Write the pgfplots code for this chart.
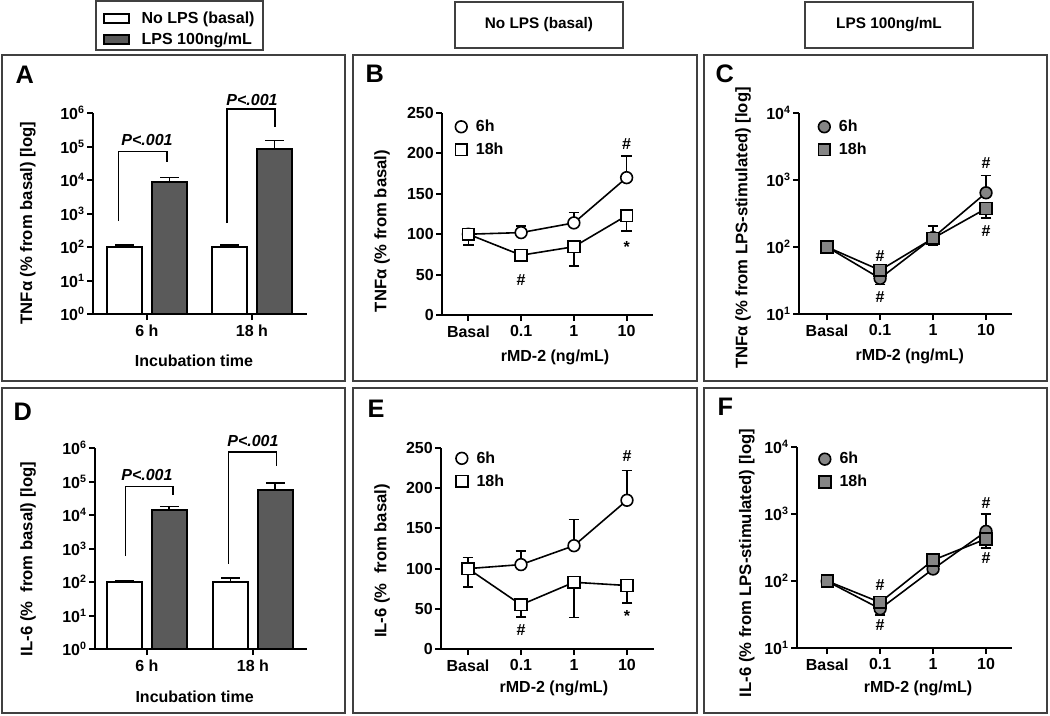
\documentclass[border=0pt]{standalone}
\usepackage{fontspec}
\setmainfont{Liberation Sans}
\usepackage{pgfplots}
\pgfplotsset{compat=1.18}
\definecolor{boxgray}{HTML}{404040}
\definecolor{bardark}{HTML}{5A5A5A}
\definecolor{mkgray}{HTML}{858585}
\newcommand\lf{\fontsize{12}{14}\selectfont\bfseries}
\newcommand\yl{\fontsize{12.5}{14}\selectfont\bfseries}
\newcommand\pf{\fontsize{19}{20}\selectfont\bfseries}
\newcommand\pv{\fontsize{12}{14}\selectfont\bfseries\itshape}
\newcommand\sh{\fontsize{11.5}{14}\selectfont\bfseries}
\pgfplotsset{
  panel/.style={
    scale only axis, anchor=south west, clip=false,
    axis lines=left, axis line style={-, line width=1.5pt, black},
    tick align=outside, major tick length=4.5pt,
    every tick/.style={black, line width=1.5pt},
    tick label style={font=\lf},
    yticklabel style={inner sep=1.5pt},
    xminorticks=false, yminorticks=false,
  },
  ebar/.style={draw=none, mark=none, forget plot,
    error bars/.cd, y dir=#1, y explicit,
    error bar style={draw=black, line width=1.2pt, solid},
    error mark options={draw=black, line width=1.2pt, mark size=4pt, rotate=90}},
  s6/.style={black, line width=1.2pt, mark=*, mark size=4.4pt, mark options={fill=#1, draw=black, line width=1.2pt}},
  s18/.style={black, line width=1.2pt, mark=square*, mark size=4.4pt, mark options={fill=#1, draw=black, line width=1.2pt}},
  mklegend/.style={legend style={at={(axis description cs:#1)}, anchor=north west, draw=none, fill=none, font=\lf, row sep=3pt, inner sep=0pt, legend cell align=left},
    legend image code/.code={\draw[##1,only marks] plot coordinates {(6pt,0pt)}; \path[draw=none,fill=none] (0pt,0pt) -- (15pt,0pt);}},
  barleg/.style={legend image code/.code={\draw[##1] (0pt,-3.4pt) rectangle (18.75pt,3.4pt); \path[draw=none,fill=none] (0pt,0pt) -- (26pt,0pt);}},
  barerr/.style={error bars/.cd, y dir=plus, y explicit,
    error bar style={draw=black, line width=1.2pt},
    error mark options={draw=black, line width=1.2pt, mark size=7pt, rotate=90}},
  lin/.style={ymin=0, ymax=250, ytick={0,50,100,150,200,250}, yticklabels={0,50,100,150,200,250}},
}
\begin{document}
\begin{tikzpicture}
\begin{scope}[x=0.75pt,y=-0.75pt]
\useasboundingbox (0,0) rectangle (1050,715);
\begin{scope}[draw=boxgray, line width=1pt]
\draw (2,55) rectangle (345,381);
\draw (353,55) rectangle (697,381);
\draw (704,55) rectangle (1047,381);
\draw (2,388) rectangle (345,713);
\draw (353,388) rectangle (697,713);
\draw (704,388) rectangle (1047,713);
\draw (96,1) rectangle (263,50);
\draw (455,2) rectangle (623,48);
\draw (805,2) rectangle (973,48);
\end{scope}
\node[font=\sh] at (539,25) {No LPS (basal)};
\node[font=\sh] at (889,25) {LPS 100ng/mL};
\node[font=\pf, anchor=base west] at (11,83) {A};
\node[font=\pf, anchor=base west] at (361,82) {B};
\node[font=\pf, anchor=base west] at (711,82) {C};
\node[font=\pf, anchor=base west] at (9,420) {D};
\node[font=\pf, anchor=base west] at (363,417) {E};
\node[font=\pf, anchor=base west] at (713,415) {F};
\end{scope}

% ---------- A ----------
\begin{axis}[panel, ymode=log, at={(69.75pt,-235.5pt)}, width=160.5pt, height=150.75pt,
  ymin=1, ymax=1e6, ytick={1,10,100,1000,10000,100000,1000000},
  yticklabels={10\textsuperscript{0},10\textsuperscript{1},10\textsuperscript{2},10\textsuperscript{3},10\textsuperscript{4},10\textsuperscript{5},10\textsuperscript{6}},
  xmin=-0.514, xmax=1.524, xtick={0,1}, xticklabels={6 h,18 h},
  legend style={at={(axis description cs:0.047,1.52)}, anchor=north west, draw=none, fill=none, font=\lf, row sep=2pt, inner sep=0pt, legend cell align=left}]
\addplot[ybar, bar width=26.25pt, bar shift=0pt, draw=black, line width=1.5pt, fill=white, barleg, barerr] coordinates {(-0.214,100) +- (0,17) (0.786,100) +- (0,15)};
\addplot[ybar, bar width=26.25pt, bar shift=0pt, draw=black, line width=1.5pt, fill=bardark, barleg, barerr] coordinates {(0.214,9000) +- (0,3000) (1.214,85000) +- (0,65000)};
\legend{No LPS (basal),LPS 100ng/mL}
\draw[line width=1.1pt] (axis cs:-0.27,590) |- (axis cs:0.19,70000) -- (axis cs:0.19,35000);
\draw[line width=1.1pt] (axis cs:0.76,520) |- (axis cs:1.22,1.3e6) -- (axis cs:1.22,390000);
\node[font=\pv] at (axis cs:0,1.55e5) {P<.001};
\node[font=\pv] at (axis cs:1,2.45e6) {P<.001};
\node[font=\yl, rotate=90] at (axis description cs:-0.304,0.453) {TNFα (\% from basal) [log]};
\node[font=\lf] at (axis description cs:0.472,-0.234) {Incubation time};
\end{axis}

% ---------- B ----------
\begin{axis}[panel, lin, xmin=-0.5, xmax=3.5, xtick={0,1,2,3}, xticklabels={Basal,0.1,1,10}, at={(331.5pt,-236.25pt)}, width=158.25pt, height=151.5pt, mklegend={0.052,0.98}]
\addplot[ebar=plus] coordinates {(0,100) +- (0,6) (1,102) +- (0,8) (2,114) +- (0,13) (3,170) +- (0,27)};
\addplot[ebar=minus] coordinates {(0,100) +- (0,13.5) (1,74) +- (0,7) (2,84.5) +- (0,24) (3,123) +- (0,19)};
\addplot[s6=white] coordinates {(0,100) (1,102) (2,114) (3,170)};
\addplot[s18=white] coordinates {(0,100) (1,74) (2,84.5) (3,123)};
\legend{6h,18h}
\node[font=\lf] at (axis cs:1,43) {\#};
\node[font=\lf] at (axis cs:3,212) {\#};
\node[font=\lf] at (axis cs:3,84) {*};
\node[font=\yl, rotate=90] at (axis description cs:-0.284,0.416) {TNFα (\% from basal)};
\node[font=\lf] at (axis description cs:0.536,-0.208) {rMD-2 (ng/mL)};
\end{axis}

% ---------- C ----------
\begin{axis}[panel, ymode=log, ymin=10, ymax=1e4, ytick={10,100,1000,10000},
  yticklabels={10\textsuperscript{1},10\textsuperscript{2},10\textsuperscript{3},10\textsuperscript{4}},
  at={(599.25pt,-235.5pt)}, width=159.75pt, height=150.75pt,
  xmin=-0.53, xmax=3.49, xtick={0,1,2,3}, xticklabels={Basal,0.1,1,10}, mklegend={0.08,0.98}]
\addplot[ebar=minus] coordinates {(1,34) +- (0,6.5)};
\addplot[ebar=plus] coordinates {(2,138) +- (0,66) (3,645) +- (0,525)};
\addplot[ebar=minus] coordinates {(2,135) +- (0,28) (3,375) +- (0,105)};
\addplot[s6=mkgray] coordinates {(0,100) (1,34) (2,138) (3,645)};
\addplot[s18=mkgray] coordinates {(0,100) (1,45) (2,135) (3,375)};
\legend{6h,18h}
\node[font=\lf] at (axis cs:1,73) {\#};
\node[font=\lf] at (axis cs:1,17.7) {\#};
\node[font=\lf] at (axis cs:3,1800) {\#};
\node[font=\lf] at (axis cs:3,174) {\#};
\node[font=\yl, rotate=90] at (axis description cs:-0.263,0.428) {TNFα (\% from LPS-stimulated) [log]};
\node[font=\lf] at (axis description cs:0.52,-0.213) {rMD-2 (ng/mL)};
\end{axis}

% ---------- D ----------
\begin{axis}[panel, ymode=log, ymin=1, ymax=1e6, ytick={1,10,100,1000,10000,100000,1000000},
  yticklabels={10\textsuperscript{0},10\textsuperscript{1},10\textsuperscript{2},10\textsuperscript{3},10\textsuperscript{4},10\textsuperscript{5},10\textsuperscript{6}},
  at={(71.25pt,-486.75pt)}, width=159pt, height=150.75pt,
  xmin=-0.49, xmax=1.51, xtick={0,1}, xticklabels={6 h,18 h}]
\addplot[ybar, bar width=26.25pt, bar shift=0pt, draw=black, line width=1.5pt, fill=white, barerr] coordinates {(-0.21,100) +- (0,12) (0.79,100) +- (0,30)};
\addplot[ybar, bar width=26.25pt, bar shift=0pt, draw=black, line width=1.5pt, fill=bardark, barerr] coordinates {(0.21,13900) +- (0,4100) (1.21,55000) +- (0,36000)};
\draw[line width=1.1pt] (axis cs:-0.2,590) |- (axis cs:0.245,72000) -- (axis cs:0.245,39000);
\draw[line width=1.1pt] (axis cs:0.77,355) |- (axis cs:1.22,7.6e5) -- (axis cs:1.22,2.82e5);
\node[font=\pv] at (axis cs:0,1.55e5) {P<.001};
\node[font=\pv] at (axis cs:1,1.58e6) {P<.001};
\node[font=\yl, rotate=90] at (axis description cs:-0.316,0.448) {IL-6 (\% \ from basal) [log]};
\node[font=\lf] at (axis description cs:0.47,-0.239) {Incubation time};
\end{axis}

% ---------- E ----------
\begin{axis}[panel, lin, at={(330.75pt,-486.75pt)}, width=159.75pt, height=150.75pt,
  xmin=-0.51, xmax=3.51, xtick={0,1,2,3}, xticklabels={Basal,0.1,1,10}, mklegend={0.059,0.997}]
\addplot[ebar=plus] coordinates {(0,100) +- (0,14) (1,105) +- (0,17) (2,128.5) +- (0,32.5) (3,185) +- (0,37)};
\addplot[ebar=minus] coordinates {(0,100) +- (0,23) (1,55) +- (0,15) (2,83) +- (0,43.6) (3,79) +- (0,22)};
\addplot[s6=white] coordinates {(0,100) (1,105) (2,128.5) (3,185)};
\addplot[s18=white] coordinates {(0,100) (1,55) (2,83) (3,79)};
\legend{6h,18h}
\node[font=\lf] at (axis cs:1,23) {\#};
\node[font=\lf] at (axis cs:3,240) {\#};
\node[font=\lf] at (axis cs:3,40.5) {*};
\node[font=\yl, rotate=90] at (axis description cs:-0.277,0.438) {IL-6 (\% \ from basal)};
\node[font=\lf] at (axis description cs:0.53,-0.194) {rMD-2 (ng/mL)};
\end{axis}

% ---------- F ----------
\begin{axis}[panel, ymode=log, ymin=10, ymax=1e4, ytick={10,100,1000,10000},
  yticklabels={10\textsuperscript{1},10\textsuperscript{2},10\textsuperscript{3},10\textsuperscript{4}},
  at={(597.75pt,-486pt)}, width=161.25pt, height=150.75pt,
  xmin=-0.57, xmax=3.49, xtick={0,1,2,3}, xticklabels={Basal,0.1,1,10}, mklegend={0.091,0.988}]
\addplot[ebar=minus] coordinates {(1,38.5) +- (0,7.5)};
\addplot[ebar=plus] coordinates {(3,550) +- (0,450)};
\addplot[ebar=minus] coordinates {(3,425) +- (0,115)};
\addplot[s6=mkgray] coordinates {(0,99) (1,38.5) (2,151) (3,550)};
\addplot[s18=mkgray] coordinates {(0,100) (1,48) (2,205) (3,425)};
\legend{6h,18h}
\node[font=\lf] at (axis cs:1,88) {\#};
\node[font=\lf] at (axis cs:1,22) {\#};
\node[font=\lf] at (axis cs:3,1435) {\#};
\node[font=\lf] at (axis cs:3,218) {\#};
\node[font=\yl, rotate=90] at (axis description cs:-0.233,0.423) {IL-6 (\% from LPS-stimulated) [log]};
\node[font=\lf] at (axis description cs:0.563,-0.199) {rMD-2 (ng/mL)};
\end{axis}
\end{tikzpicture}
\end{document}
